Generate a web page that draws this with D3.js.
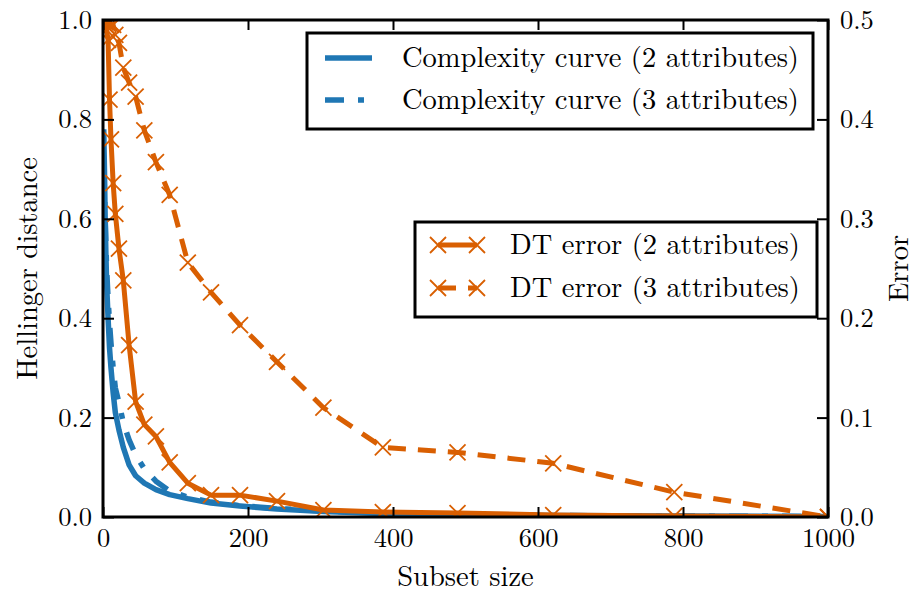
<!DOCTYPE html>
<html lang="en">
<head>
<meta charset="utf-8">
<title>Complexity curves and DT error</title>
<script src="https://cdn.jsdelivr.net/npm/d3@7"></script>
<style>
body { margin: 0; background: #fff; }
svg text {
    font-family: "Latin Modern Roman", "CMU Serif", "Liberation Serif", "Tinos", "Times New Roman", "Nimbus Roman", "Nimbus Roman No9 L", "FreeSerif", "DejaVu Serif", "Noto Serif", Georgia, serif;
    fill: #000;
}
.axis path.domain { display: none; }
.axis line { stroke: #000; stroke-width: 2; }
.axis text { font-size: 26.5px; }
</style>
</head>
<body>
<script>
// subset sizes (log spaced)
var subsetSizes = [1, 2, 3, 4, 5, 7, 9, 11, 14, 17, 22, 28, 36, 45, 57, 73, 92, 117, 149, 189, 240, 304, 386, 489, 621, 788, 1000];

// Hellinger distance (left axis)
var ccTwoAttr = [0.78, 0.70, 0.60, 0.53, 0.47, 0.40, 0.34, 0.30, 0.25, 0.21, 0.175, 0.14, 0.105, 0.083, 0.068, 0.055, 0.045, 0.037, 0.028, 0.022, 0.016, 0.011, 0.007, 0.005, 0.003, 0.002, 0.001];
var ccThreeAttr = [0.70, 0.66, 0.60, 0.55, 0.50, 0.44, 0.39, 0.35, 0.30, 0.26, 0.23, 0.19, 0.155, 0.125, 0.097, 0.072, 0.052, 0.040, 0.030, 0.023, 0.017, 0.012, 0.008, 0.005, 0.003, 0.002, 0.001];

// DT error (right axis)
var dtTwoAttr = [0.5, 0.5, 0.498, 0.495, 0.49, 0.48, 0.42, 0.38, 0.336, 0.305, 0.27, 0.238, 0.173, 0.116, 0.093, 0.081, 0.055, 0.034, 0.022, 0.022, 0.016, 0.007, 0.005, 0.004, 0.002, 0.001, 0.0];
var dtThreeAttr = [0.5, 0.5, 0.5, 0.498, 0.498, 0.496, 0.498, 0.495, 0.495, 0.485, 0.477, 0.452, 0.437, 0.423, 0.389, 0.357, 0.324, 0.256, 0.226, 0.193, 0.156, 0.110, 0.070, 0.065, 0.054, 0.025, 0.0];

var xTicks = [0, 200, 400, 600, 800, 1000];
var leftTicks = [0.0, 0.2, 0.4, 0.6, 0.8, 1.0];
var rightTicks = [0.0, 0.1, 0.2, 0.3, 0.4, 0.5];

var blue = '#1f77b4', orange = '#d95f02';

var W = 916, H = 596;
var margin = { top: 20, right: 88, bottom: 79, left: 103 };
var plotW = W - margin.left - margin.right,
    plotH = H - margin.top - margin.bottom;

var x = d3.scaleLinear().domain([0, 1000]).range([0, plotW]);
var yL = d3.scaleLinear().domain([0, 1]).range([plotH, 0]);
var yR = d3.scaleLinear().domain([0, 0.5]).range([plotH, 0]);

var svg = d3.select('body').append('svg')
    .attr('width', W)
    .attr('height', H);

var g = svg.append('g')
    .attr('transform', 'translate(' + margin.left + ',' + margin.top + ')');

g.append('clipPath').attr('id', 'clip')
    .append('rect').attr('width', plotW).attr('height', plotH);

var plot = g.append('g').attr('clip-path', 'url(#clip)');

function drawLine(values, yScale, color, dash, width) {
    var pts = subsetSizes.map(function(s, i) { return [s, values[i]]; });
    var line = d3.line()
        .x(function(d) { return x(d[0]); })
        .y(function(d) { return yScale(d[1]); });
    plot.append('path')
        .datum(pts)
        .attr('d', line)
        .attr('fill', 'none')
        .attr('stroke', color)
        .attr('stroke-width', width)
        .attr('stroke-dasharray', dash)
        .attr('stroke-linejoin', 'round');
    return pts;
}

function drawMarkers(pts, yScale, color) {
    var r = 8;
    plot.append('g').selectAll('path')
        .data(pts)
        .enter()
        .append('path')
        .attr('d', function(d) {
            var cx = x(d[0]), cy = yScale(d[1]);
            return 'M' + (cx - r) + ',' + (cy - r) + 'L' + (cx + r) + ',' + (cy + r) +
                'M' + (cx - r) + ',' + (cy + r) + 'L' + (cx + r) + ',' + (cy - r);
        })
        .attr('stroke', color)
        .attr('stroke-width', 1.8)
        .attr('fill', 'none');
}

// complexity curves
drawLine(ccTwoAttr, yL, blue, null, 5.5);
drawLine(ccThreeAttr, yL, blue, '19,14,6,14', 5.5);

// DT error curves
var p2 = drawLine(dtTwoAttr, yR, orange, null, 5);
drawMarkers(p2, yR, orange);
var p3 = drawLine(dtThreeAttr, yR, orange, '18,12', 5);
drawMarkers(p3, yR, orange);

// axes, ticks pointing inward
g.append('g').attr('class', 'axis')
    .attr('transform', 'translate(0,' + plotH + ')')
    .call(d3.axisBottom(x).tickValues(xTicks).tickSize(-10).tickPadding(11)
        .tickFormat(d3.format('d')));

g.append('g').attr('class', 'axis')
    .call(d3.axisTop(x).tickValues(xTicks).tickSize(-10).tickFormat(''));

g.append('g').attr('class', 'axis')
    .call(d3.axisLeft(yL).tickValues(leftTicks).tickSize(-11).tickPadding(11)
        .tickFormat(d3.format('.1f')));

g.append('g').attr('class', 'axis')
    .attr('transform', 'translate(' + plotW + ',0)')
    .call(d3.axisRight(yR).tickValues(rightTicks).tickSize(-11).tickPadding(12)
        .tickFormat(d3.format('.1f')));

g.selectAll('.axis').attr('font-family', null).attr('font-size', null);

// frame
g.append('rect')
    .attr('width', plotW)
    .attr('height', plotH)
    .attr('fill', 'none')
    .attr('stroke', '#000')
    .attr('stroke-width', 3);

// axis labels
svg.append('text')
    .attr('x', margin.left + plotW / 2)
    .attr('y', 586)
    .attr('text-anchor', 'middle')
    .style('font-size', '28.5px')
    .text('Subset size');

svg.append('text')
    .attr('transform', 'translate(37,' + (margin.top + plotH / 2) + ') rotate(-90)')
    .attr('text-anchor', 'middle')
    .style('font-size', '28.5px')
    .text('Hellinger distance');

svg.append('text')
    .attr('transform', 'translate(908,' + (margin.top + plotH / 2) + ') rotate(-90)')
    .attr('text-anchor', 'middle')
    .style('font-size', '28.5px')
    .text('Error');

// legends
function legend(box, rows) {
    var lg = svg.append('g');
    lg.append('rect')
        .attr('x', box.x).attr('y', box.y)
        .attr('width', box.w).attr('height', box.h)
        .attr('fill', '#fff')
        .attr('stroke', '#000')
        .attr('stroke-width', 3);
    rows.forEach(function(r, i) {
        var cy = box.y + box.first + i * box.step;
        lg.append('line')
            .attr('x1', box.lx1).attr('x2', box.lx2)
            .attr('y1', cy).attr('y2', cy)
            .attr('stroke', r.color)
            .attr('stroke-width', r.width)
            .attr('stroke-dasharray', r.dash);
        if (r.marker) {
            [box.lx1, box.lx2].forEach(function(mx) {
                lg.append('path')
                    .attr('d', 'M' + (mx - 8) + ',' + (cy - 8) + 'L' + (mx + 8) + ',' + (cy + 8) +
                        'M' + (mx - 8) + ',' + (cy + 8) + 'L' + (mx + 8) + ',' + (cy - 8))
                    .attr('stroke', r.color)
                    .attr('stroke-width', 1.8);
            });
        }
        lg.append('text')
            .attr('x', box.tx)
            .attr('y', cy + 9)
            .style('font-size', '28.5px')
            .text(r.label);
    });
}

legend({ x: 307, y: 33, w: 506, h: 96, first: 25, step: 42, lx1: 325, lx2: 372, tx: 402 }, [
    { label: 'Complexity curve (2 attributes)', color: blue, width: 5.5, dash: null },
    { label: 'Complexity curve (3 attributes)', color: blue, width: 5.5, dash: '19,14,6,14' }
]);

legend({ x: 415, y: 222, w: 402, h: 95, first: 23, step: 43, lx1: 438, lx2: 477, tx: 510 }, [
    { label: 'DT error (2 attributes)', color: orange, width: 5, dash: null, marker: true },
    { label: 'DT error (3 attributes)', color: orange, width: 5, dash: '18,12', marker: true }
]);
</script>
</body>
</html>
